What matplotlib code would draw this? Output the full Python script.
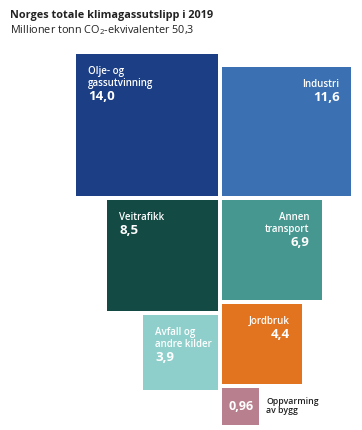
import matplotlib
matplotlib.use("Agg")
import matplotlib.pyplot as plt
from matplotlib.patches import Rectangle
import numpy as np

# ---- data (Mt CO2-eq, 2019) ----
sectors = ["Olje- og\ngassutvinning", "Industri", "Veitrafikk", "Annen\ntransport",
           "Avfall og\nandre kilder", "Jordbruk", "Oppvarming\nav bygg"]
values = [14.0, 11.6, 8.5, 6.9, 3.9, 4.4, 0.96]
value_labels = ["14,0", "11,6", "8,5", "6,9", "3,9", "4,4", "0,96"]
columns = ["left", "right", "left", "right", "left", "right", "right"]
colors = ["#1b3e84", "#3b70b2", "#134a43", "#46978f", "#8fcfcb", "#e2731f", "#b8808f"]

W, H = 362, 430
K = 38.0          # px per sqrt(Mt)
MID = 220         # gap centre between the two columns
GAP = 4
ROW1_BOTTOM = 196
PAD = 12

plt.rcParams["font.family"] = ["Open Sans", "DejaVu Sans"]
plt.rcParams["mathtext.fontset"] = "custom"
plt.rcParams["mathtext.rm"] = "Open Sans"
plt.rcParams["mathtext.default"] = "rm"
fig = plt.figure(figsize=(W / 100, H / 100), dpi=100)
ax = fig.add_axes([0, 0, 1, 1])
ax.set_xlim(0, W)
ax.set_ylim(H, 0)
ax.axis("off")

fig.text(10 / W, 1 - 10 / H, "Norges totale klimagassutslipp i 2019",
         fontsize=7.8, fontweight="bold", color="#222222", va="top", ha="left")
fig.text(10 / W, 1 - 23 / H, "Millioner tonn CO$_2$-ekvivalenter 50,3",
         fontsize=7.8, color="#222222", va="top", ha="left")

bottoms = {"left": None, "right": None}
for i, (name, v, lab, col, c) in enumerate(zip(sectors, values, value_labels, columns, colors)):
    s = K * np.sqrt(v)
    x0 = MID - GAP / 2 - s if col == "left" else MID + GAP / 2
    if i < 2:
        y0 = ROW1_BOTTOM - s
    elif i < 4:
        y0 = ROW1_BOTTOM + GAP
    else:
        y0 = bottoms[col] + GAP
    bottoms[col] = y0 + s
    ax.add_patch(Rectangle((x0, y0), s, s, facecolor=c, edgecolor="none"))

    if v < 2:
        # small box: number inside, name outside
        ax.text(x0 + s / 2, y0 + s / 2, lab, color="white", fontsize=9,
                fontweight="bold", ha="center", va="center")
        ax.text(x0 + s + 7, y0 + s / 2, name, color="#222222", fontsize=6.3,
                fontweight="semibold", ha="left", va="center", linespacing=1.0)
        continue

    nlines = name.count("\n") + 1
    if col == "left":
        tx, ha = x0 + PAD, "left"
    else:
        tx, ha = x0 + s - PAD, "right"
    ax.text(tx, y0 + PAD, name, color="white", fontsize=7, fontweight="semibold",
            ha=ha, va="top", linespacing=1.15, multialignment=ha)
    ax.text(tx, y0 + PAD + nlines * 11.5 + 1, lab, color="white", fontsize=9.5,
            fontweight="bold", ha=ha, va="top")

fig.savefig("out.png", dpi=100, facecolor="white")
